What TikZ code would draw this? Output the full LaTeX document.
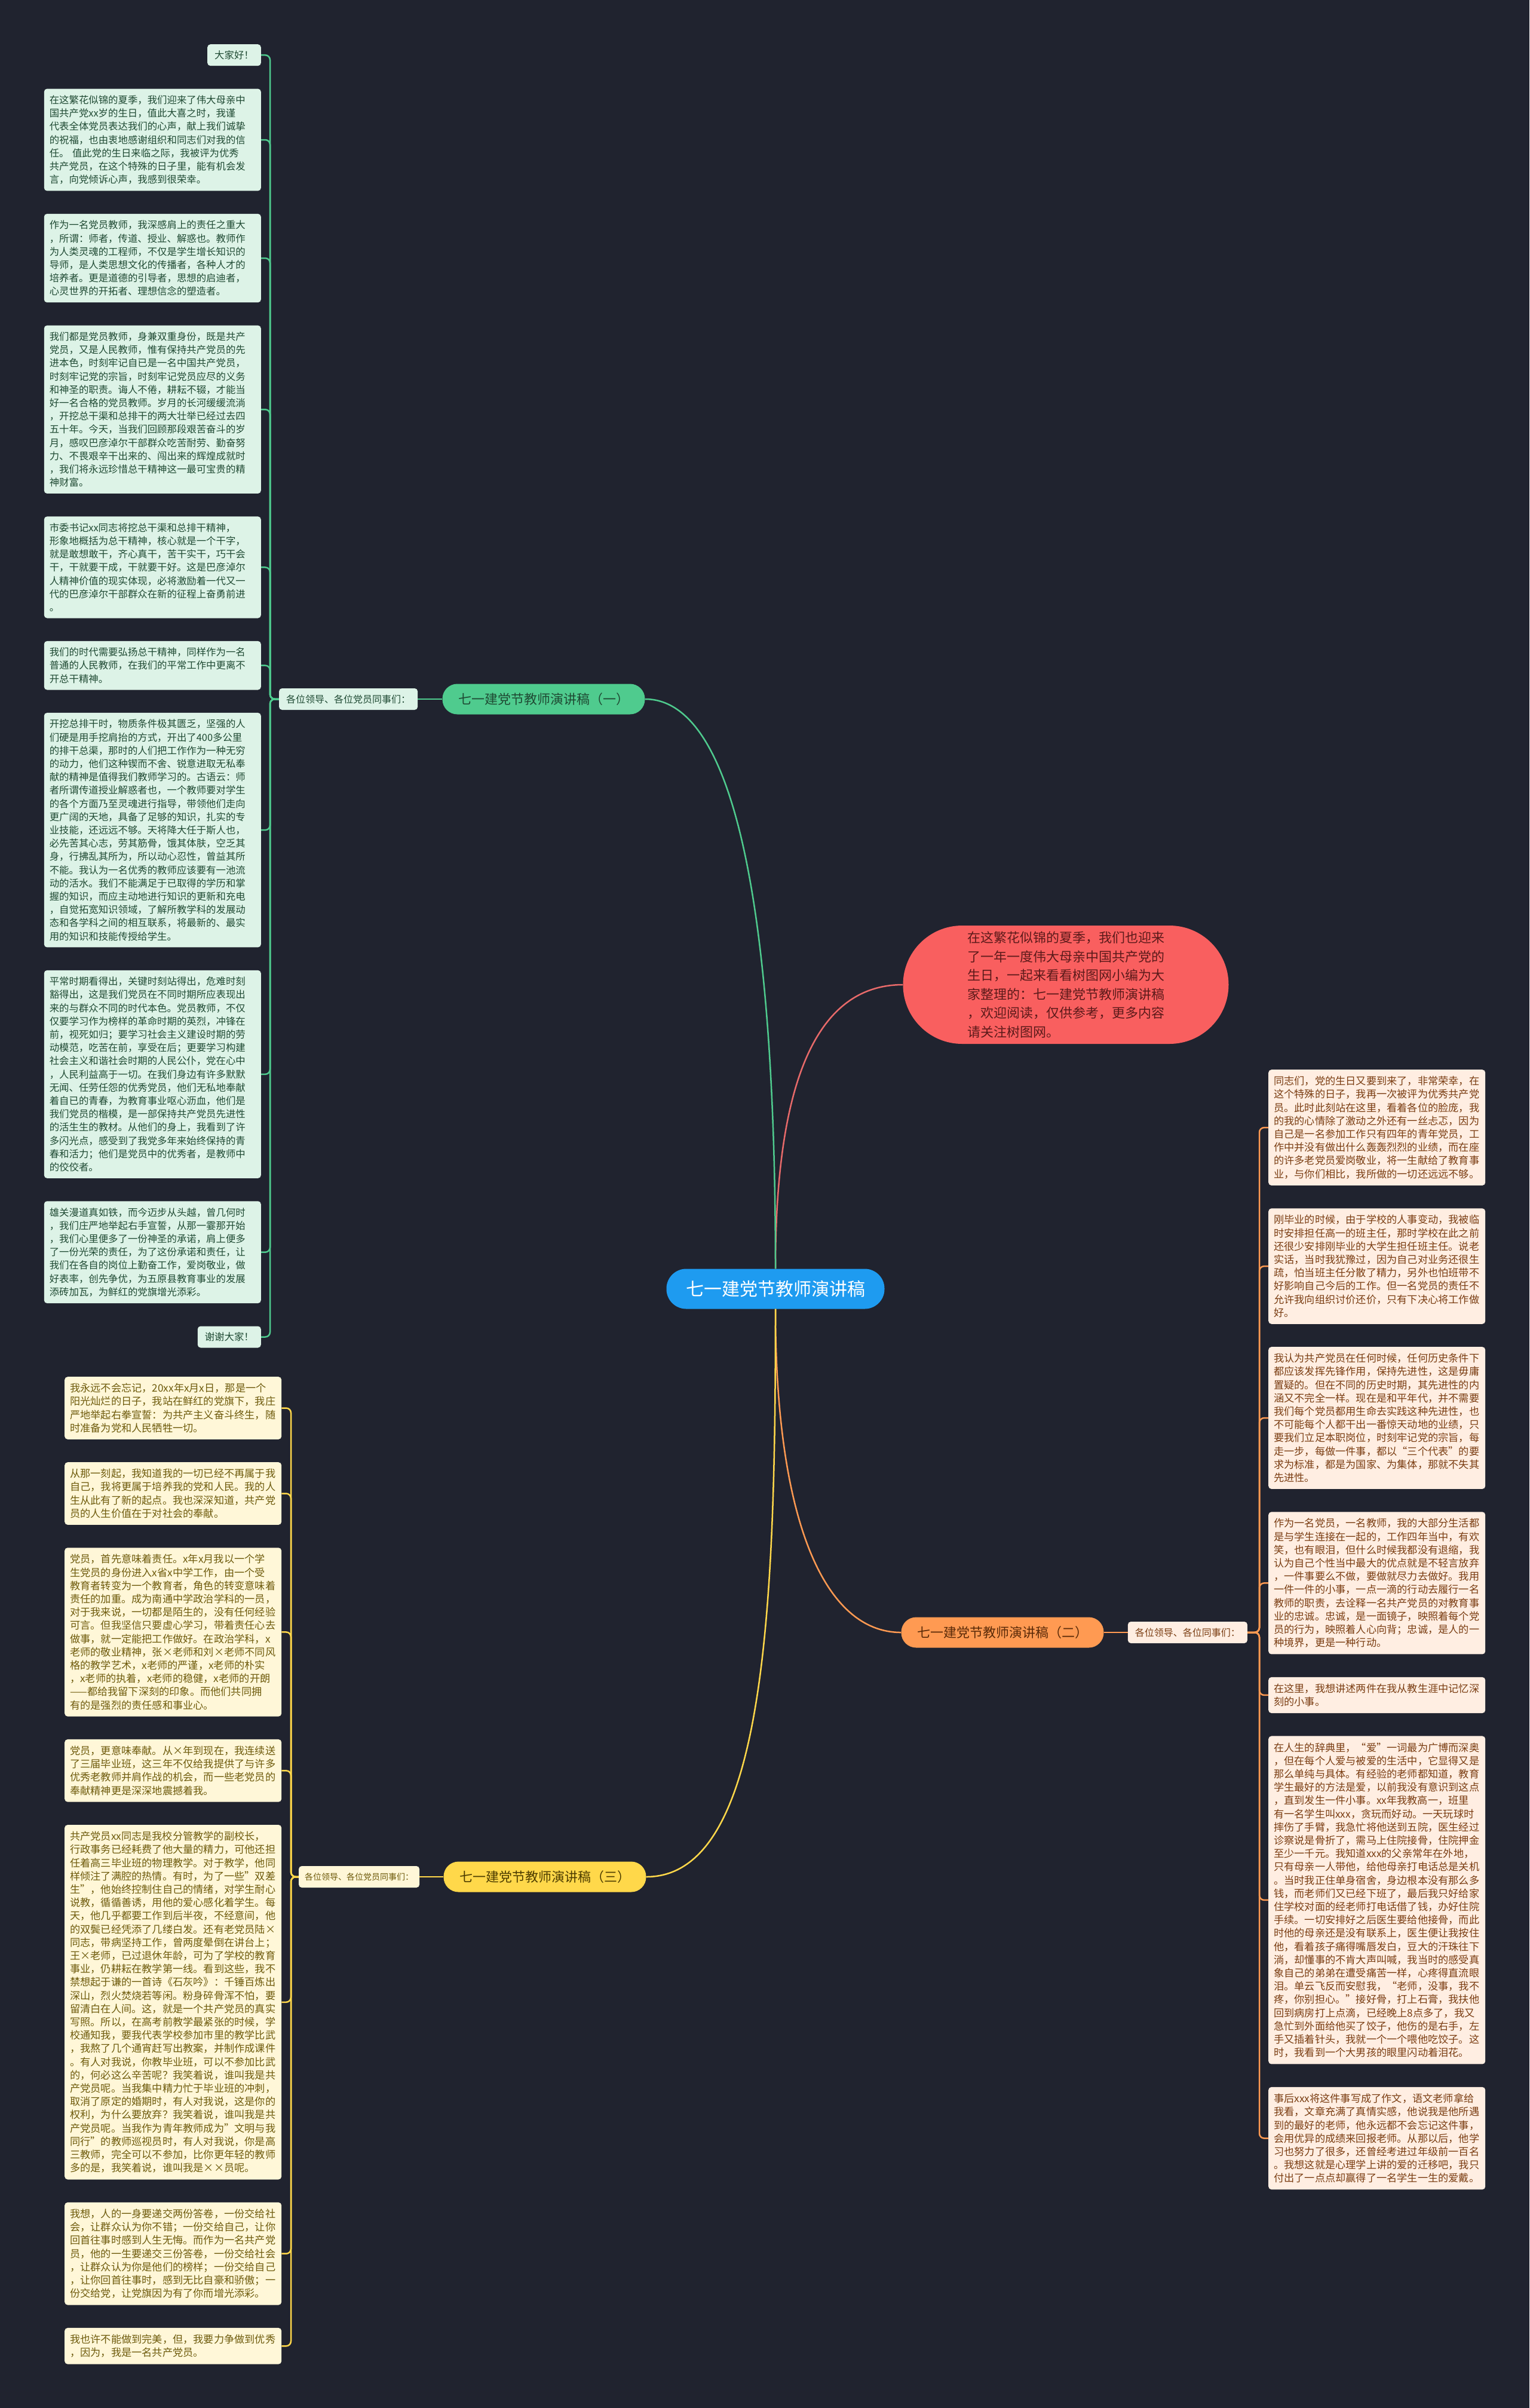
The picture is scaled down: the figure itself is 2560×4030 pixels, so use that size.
\documentclass[tikz,border=0pt]{standalone}
\usepackage{fontspec}
\setmainfont{Noto Sans CJK SC}
\usetikzlibrary{positioning}

\definecolor{canvas}{HTML}{20232F}
\definecolor{rootblue}{HTML}{1E9BF0}
\definecolor{introred}{HTML}{F95F5F}
\definecolor{introink}{HTML}{5C1A1A}
\definecolor{introline}{HTML}{E86A6A}
\definecolor{greenmain}{HTML}{4FCB8E}
\definecolor{greenink}{HTML}{1F4A33}
\definecolor{greenleaf}{HTML}{DDF3E7}
\definecolor{orangemain}{HTML}{FF9A52}
\definecolor{orangeink}{HTML}{5A2A08}
\definecolor{orangeleaf}{HTML}{FFEEE2}
\definecolor{orangetext}{HTML}{7A3D12}
\definecolor{yellowmain}{HTML}{FFD84A}
\definecolor{yellowink}{HTML}{4D3D00}
\definecolor{yellowleaf}{HTML}{FFF7D8}
\definecolor{yellowtext}{HTML}{6E5B0C}

\begin{document}
\begin{tikzpicture}[x=1pt,y=-1pt]
    \tikzset{leaf/.style= {rectangle, rounded corners=5pt
    , inner xsep=9pt, inner ysep=11pt
    , text width=345pt
    , align=left
      },
    leafg/.style={leaf, fill=greenleaf, text=greenink, font=\fontsize{16.4}{22.2}\selectfont},
    leafo/.style={leaf, fill=orangeleaf, text=orangetext, font=\fontsize{17.2}{22.2}\selectfont},
    leafy/.style={leaf, fill=yellowleaf, text=yellowtext, font=\fontsize{17.2}{22.2}\selectfont},
    tag/.style={rectangle, rounded corners=5pt, inner xsep=12pt, minimum height=36pt, font=\fontsize{16}{20}\selectfont},
    pill/.style={rectangle, rounded corners=25pt, minimum width=339pt, minimum height=51pt, font=\fontsize{22}{26}\selectfont},
    link/.style={line width=2.5pt},
    spine/.style={line width=2.5pt, rounded corners=8pt}
    }

\fill[canvas] (0,0) rectangle (2560,4030);

% centre
\node [rectangle, rounded corners=33pt, fill=rootblue, text=white, minimum width=365pt, minimum height=67pt, font=\fontsize{30}{36}\selectfont] (root) at (1298,2157) {七一建党节教师演讲稿};
\node [rectangle, rounded corners=99pt, fill=introred, text=introink, minimum width=545pt, minimum height=198pt, text width=330pt, align=left, font=\fontsize{22}{31.5}\selectfont] (intro) at (1784,1648) {在这繁花似锦的夏季，我们也迎来\\
了一年一度伟大母亲中国共产党的\\
生日，一起来看看树图网小编为大\\
家整理的：七一建党节教师演讲稿\\
，欢迎阅读，仅供参考，更多内容\\
请关注树图网。};

% branches
\node [pill, fill=greenmain, text=greenink] (b1) at (910,1170) {七一建党节教师演讲稿（一）};
\node [pill, fill=orangemain, text=orangeink] (b2) at (1678,2732) {七一建党节教师演讲稿（二）};
\node [pill, fill=yellowmain, text=yellowink] (b3) at (912,3141) {七一建党节教师演讲稿（三）};

\node [tag, fill=greenleaf, text=greenink, left=41pt of b1] (lab1) {各位领导、各位党员同事们：};
\node [tag, fill=orangeleaf, text=orangetext, right=40pt of b2] (lab2) {各位领导、各位同事们：};
\node [tag, fill=yellowleaf, text=yellowtext, inner xsep=10pt, font=\fontsize{14}{18}\selectfont, left=40pt of b3] (lab3) {各位领导、各位党员同事们：};

% speech one
\node [tag, fill=greenleaf, text=greenink, font=\fontsize{16.4}{20}\selectfont, anchor=north east] (g0) at (437,74) {大家好！};
\node [leafg, below=38pt of g0.south east, anchor=north east] (g1) {在这繁花似锦的夏季，我们迎来了伟大母亲中\\
国共产党xx岁的生日，值此大喜之时，我谨\\
代表全体党员表达我们的心声，献上我们诚挚\\
的祝福，也由衷地感谢组织和同志们对我的信\\
任。 值此党的生日来临之际，我被评为优秀\\
共产党员，在这个特殊的日子里，能有机会发\\
言，向党倾诉心声，我感到很荣幸。};
\node [leafg, below=38pt of g1.south east, anchor=north east] (g2) {作为一名党员教师，我深感肩上的责任之重大\\
，所谓：师者，传道、授业、解惑也。教师作\\
为人类灵魂的工程师，不仅是学生增长知识的\\
导师，是人类思想文化的传播者，各种人才的\\
培养者。更是道德的引导者，思想的启迪者，\\
心灵世界的开拓者、理想信念的塑造者。};
\node [leafg, below=38pt of g2.south east, anchor=north east] (g3) {我们都是党员教师，身兼双重身份，既是共产\\
党员，又是人民教师，惟有保持共产党员的先\\
进本色，时刻牢记自已是一名中国共产党员，\\
时刻牢记党的宗旨，时刻牢记党员应尽的义务\\
和神圣的职责。诲人不倦，耕耘不辍，才能当\\
好一名合格的党员教师。岁月的长河缓缓流淌\\
，开挖总干渠和总排干的两大壮举已经过去四\\
五十年。今天，当我们回顾那段艰苦奋斗的岁\\
月，感叹巴彦淖尔干部群众吃苦耐劳、勤奋努\\
力、不畏艰辛干出来的、闯出来的辉煌成就时\\
，我们将永远珍惜总干精神这一最可宝贵的精\\
神财富。};
\node [leafg, below=38pt of g3.south east, anchor=north east] (g4) {市委书记xx同志将挖总干渠和总排干精神，\\
形象地概括为总干精神，核心就是一个干字，\\
就是敢想敢干，齐心真干，苦干实干，巧干会\\
干，干就要干成，干就要干好。这是巴彦淖尔\\
人精神价值的现实体现，必将激励着一代又一\\
代的巴彦淖尔干部群众在新的征程上奋勇前进\\
。};
\node [leafg, below=38pt of g4.south east, anchor=north east] (g5) {我们的时代需要弘扬总干精神，同样作为一名\\
普通的人民教师，在我们的平常工作中更离不\\
开总干精神。};
\node [leafg, below=38pt of g5.south east, anchor=north east] (g6) {开挖总排干时，物质条件极其匮乏，坚强的人\\
们硬是用手挖肩抬的方式，开出了400多公里\\
的排干总渠，那时的人们把工作作为一种无穷\\
的动力，他们这种锲而不舍、锐意进取无私奉\\
献的精神是值得我们教师学习的。古语云：师\\
者所谓传道授业解惑者也，一个教师要对学生\\
的各个方面乃至灵魂进行指导，带领他们走向\\
更广阔的天地，具备了足够的知识，扎实的专\\
业技能，还远远不够。天将降大任于斯人也，\\
必先苦其心志，劳其筋骨，饿其体肤，空乏其\\
身，行拂乱其所为，所以动心忍性，曾益其所\\
不能。我认为一名优秀的教师应该要有一池流\\
动的活水。我们不能满足于已取得的学历和掌\\
握的知识，而应主动地进行知识的更新和充电\\
，自觉拓宽知识领域，了解所教学科的发展动\\
态和各学科之间的相互联系，将最新的、最实\\
用的知识和技能传授给学生。};
\node [leafg, below=38pt of g6.south east, anchor=north east] (g7) {平常时期看得出，关键时刻站得出，危难时刻\\
豁得出，这是我们党员在不同时期所应表现出\\
来的与群众不同的时代本色。党员教师，不仅\\
仅要学习作为榜样的革命时期的英烈，冲锋在\\
前，视死如归；要学习社会主义建设时期的劳\\
动模范，吃苦在前，享受在后；更要学习构建\\
社会主义和谐社会时期的人民公仆，党在心中\\
，人民利益高于一切。在我们身边有许多默默\\
无闻、任劳任怨的优秀党员，他们无私地奉献\\
着自已的青春，为教育事业呕心沥血，他们是\\
我们党员的楷模，是一部保持共产党员先进性\\
的活生生的教材。从他们的身上，我看到了许\\
多闪光点，感受到了我党多年来始终保持的青\\
春和活力；他们是党员中的优秀者，是教师中\\
的佼佼者。};
\node [leafg, below=38pt of g7.south east, anchor=north east] (g8) {雄关漫道真如铁，而今迈步从头越，曾几何时\\
，我们庄严地举起右手宣誓，从那一霎那开始\\
，我们心里便多了一份神圣的承诺，肩上便多\\
了一份光荣的责任，为了这份承诺和责任，让\\
我们在各自的岗位上勤奋工作，爱岗敬业，做\\
好表率，创先争优，为五原县教育事业的发展\\
添砖加瓦，为鲜红的党旗增光添彩。};
\node [tag, fill=greenleaf, text=greenink, font=\fontsize{16.4}{20}\selectfont, below=38pt of g8.south east, anchor=north east] (g9) {谢谢大家！};

% speech two
\node [leafo, anchor=north west] (o1) at (2123,1790) {同志们，党的生日又要到来了，非常荣幸，在\\
这个特殊的日子，我再一次被评为优秀共产党\\
员。此时此刻站在这里，看着各位的脸庞，我\\
的我的心情除了激动之外还有一丝忐忑，因为\\
自己是一名参加工作只有四年的青年党员，工\\
作中并没有做出什么轰轰烈烈的业绩，而在座\\
的许多老党员爱岗敬业，将一生献给了教育事\\
业，与你们相比，我所做的一切还远远不够。};
\node [leafo, below=38pt of o1] (o2) {刚毕业的时候，由于学校的人事变动，我被临\\
时安排担任高一的班主任，那时学校在此之前\\
还很少安排刚毕业的大学生担任班主任。说老\\
实话，当时我犹豫过，因为自己对业务还很生\\
疏，怕当班主任分散了精力，另外也怕班带不\\
好影响自己今后的工作。但一名党员的责任不\\
允许我向组织讨价还价，只有下决心将工作做\\
好。};
\node [leafo, below=38pt of o2] (o3) {我认为共产党员在任何时候，任何历史条件下\\
都应该发挥先锋作用，保持先进性，这是毋庸\\
置疑的。但在不同的历史时期，其先进性的内\\
涵又不完全一样。现在是和平年代，并不需要\\
我们每个党员都用生命去实践这种先进性，也\\
不可能每个人都干出一番惊天动地的业绩，只\\
要我们立足本职岗位，时刻牢记党的宗旨，每\\
走一步，每做一件事，都以“三个代表”的要\\
求为标准，都是为国家、为集体，那就不失其\\
先进性。};
\node [leafo, below=38pt of o3] (o4) {作为一名党员，一名教师，我的大部分生活都\\
是与学生连接在一起的，工作四年当中，有欢\\
笑，也有眼泪，但什么时候我都没有退缩，我\\
认为自己个性当中最大的优点就是不轻言放弃\\
，一件事要么不做，要做就尽力去做好。我用\\
一件一件的小事，一点一滴的行动去履行一名\\
教师的职责，去诠释一名共产党员的对教育事\\
业的忠诚。忠诚，是一面镜子，映照着每个党\\
员的行为，映照着人心向背；忠诚，是人的一\\
种境界，更是一种行动。};
\node [leafo, below=38pt of o4] (o5) {在这里，我想讲述两件在我从教生涯中记忆深\\
刻的小事。};
\node [leafo, below=38pt of o5] (o6) {在人生的辞典里，“爱”一词最为广博而深奥\\
，但在每个人爱与被爱的生活中，它显得又是\\
那么单纯与具体。有经验的老师都知道，教育\\
学生最好的方法是爱，以前我没有意识到这点\\
，直到发生一件小事。xx年我教高一，班里\\
有一名学生叫xxx，贪玩而好动。一天玩球时\\
摔伤了手臂，我急忙将他送到五院，医生经过\\
诊察说是骨折了，需马上住院接骨，住院押金\\
至少一千元。我知道xxx的父亲常年在外地，\\
只有母亲一人带他，给他母亲打电话总是关机\\
。当时我正住单身宿舍，身边根本没有那么多\\
钱，而老师们又已经下班了，最后我只好给家\\
住学校对面的经老师打电话借了钱，办好住院\\
手续。一切安排好之后医生要给他接骨，而此\\
时他的母亲还是没有联系上，医生便让我按住\\
他，看着孩子痛得嘴唇发白，豆大的汗珠往下\\
淌，却懂事的不肯大声叫喊，我当时的感受真\\
象自己的弟弟在遭受痛苦一样，心疼得直流眼\\
泪。单云飞反而安慰我，“老师，没事，我不\\
疼，你别担心。”接好骨，打上石膏，我扶他\\
回到病房打上点滴，已经晚上8点多了，我又\\
急忙到外面给他买了饺子，他伤的是右手，左\\
手又插着针头，我就一个一个喂他吃饺子。这\\
时，我看到一个大男孩的眼里闪动着泪花。};
\node [leafo, below=38pt of o6] (o7) {事后xxx将这件事写成了作文，语文老师拿给\\
我看，文章充满了真情实感，他说我是他所遇\\
到的最好的老师，他永远都不会忘记这件事，\\
会用优异的成绩来回报老师。从那以后，他学\\
习也努力了很多，还曾经考进过年级前一百名\\
。我想这就是心理学上讲的爱的迁移吧，我只\\
付出了一点点却赢得了一名学生一生的爱戴。};

% speech three
\node [leafy, anchor=north west] (y1) at (108,2304) {我永远不会忘记，20xx年x月x日，那是一个\\
阳光灿烂的日子，我站在鲜红的党旗下，我庄\\
严地举起右拳宣誓：为共产主义奋斗终生，随\\
时准备为党和人民牺牲一切。};
\node [leafy, below=38pt of y1] (y2) {从那一刻起，我知道我的一切已经不再属于我\\
自己，我将更属于培养我的党和人民。我的人\\
生从此有了新的起点。我也深深知道，共产党\\
员的人生价值在于对社会的奉献。};
\node [leafy, below=38pt of y2] (y3) {党员，首先意味着责任。x年x月我以一个学\\
生党员的身份进入x省x中学工作，由一个受\\
教育者转变为一个教育者，角色的转变意味着\\
责任的加重。成为南通中学政治学科的一员，\\
对于我来说，一切都是陌生的，没有任何经验\\
可言。但我坚信只要虚心学习，带着责任心去\\
做事，就一定能把工作做好。在政治学科，x\\
老师的敬业精神，张×老师和刘×老师不同风\\
格的教学艺术，x老师的严谨，x老师的朴实\\
，x老师的执着，x老师的稳健，x老师的开朗\\
——都给我留下深刻的印象。而他们共同拥\\
有的是强烈的责任感和事业心。};
\node [leafy, below=38pt of y3] (y4) {党员，更意味奉献。从×年到现在，我连续送\\
了三届毕业班，这三年不仅给我提供了与许多\\
优秀老教师并肩作战的机会，而一些老党员的\\
奉献精神更是深深地震撼着我。};
\node [leafy, below=38pt of y4] (y5) {共产党员xx同志是我校分管教学的副校长，\\
行政事务已经耗费了他大量的精力，可他还担\\
任着高三毕业班的物理教学。对于教学，他同\\
样倾注了满腔的热情。有时，为了一些"双差\\
生"，他始终控制住自己的情绪，对学生耐心\\
说教，循循善诱，用他的爱心感化着学生。每\\
天，他几乎都要工作到后半夜，不经意间，他\\
的双鬓已经凭添了几缕白发。还有老党员陆×\\
同志，带病坚持工作，曾两度晕倒在讲台上；\\
王×老师，已过退休年龄，可为了学校的教育\\
事业，仍耕耘在教学第一线。看到这些，我不\\
禁想起于谦的一首诗《石灰吟》：千锤百炼出\\
深山，烈火焚烧若等闲。粉身碎骨浑不怕，要\\
留清白在人间。这，就是一个共产党员的真实\\
写照。所以，在高考前教学最紧张的时候，学\\
校通知我，要我代表学校参加市里的教学比武\\
，我熬了几个通宵赶写出教案，并制作成课件\\
。有人对我说，你教毕业班，可以不参加比武\\
的，何必这么辛苦呢？我笑着说，谁叫我是共\\
产党员呢。当我集中精力忙于毕业班的冲刺，\\
取消了原定的婚期时，有人对我说，这是你的\\
权利，为什么要放弃？我笑着说，谁叫我是共\\
产党员呢。当我作为青年教师成为"文明与我\\
同行"的教师巡视员时，有人对我说，你是高\\
三教师，完全可以不参加，比你更年轻的教师\\
多的是，我笑着说，谁叫我是××员呢。};
\node [leafy, below=38pt of y5] (y6) {我想，人的一身要递交两份答卷，一份交给社\\
会，让群众认为你不错；一份交给自己，让你\\
回首往事时感到人生无悔。而作为一名共产党\\
员，他的一生要递交三份答卷，一份交给社会\\
，让群众认为你是他们的榜样；一份交给自己\\
，让你回首往事时，感到无比自豪和骄傲；一\\
份交给党，让党旗因为有了你而增光添彩。};
\node [leafy, below=38pt of y6] (y7) {我也许不能做到完美，但，我要力争做到优秀\\
，因为，我是一名共产党员。};

% connectors from the root
\draw[link, introline] (root.north) .. controls +(0,-300) and +(-150,0) .. (intro.west);
\draw[link, greenmain] (root.north) .. controls +(0,-600) and +(150,0) .. (b1.east);
\draw[link, orangemain] (root.south) .. controls +(0,350) and +(-130,0) .. (b2.west);
\draw[link, yellowmain] (root.south) .. controls +(0,500) and +(200,0) .. (b3.east);

 \path[draw, link, greenmain] (b1) -- (lab1);
 \path[draw, link, orangemain] (b2) -- (lab2);
 \path[draw, link, yellowmain] (b3) -- (lab3);

% spines
\coordinate (gs) at (452,0);
\coordinate (os) at (2108,0);
\coordinate (ys) at (487,0);
\foreach \n in {g0,g1,g2,g3,g4,g5,g6,g7,g8,g9}
  \draw[spine, greenmain] (lab1.west) -- (lab1.west -| gs) |- (\n.east);
\foreach \n in {o1,o2,o3,o4,o5,o6,o7}
  \draw[spine, orangemain] (lab2.east) -- (lab2.east -| os) |- (\n.west);
\foreach \n in {y1,y2,y3,y4,y5,y6,y7}
  \draw[spine, yellowmain] (lab3.west) -- (lab3.west -| ys) |- (\n.east);
\end{tikzpicture}
\end{document}
